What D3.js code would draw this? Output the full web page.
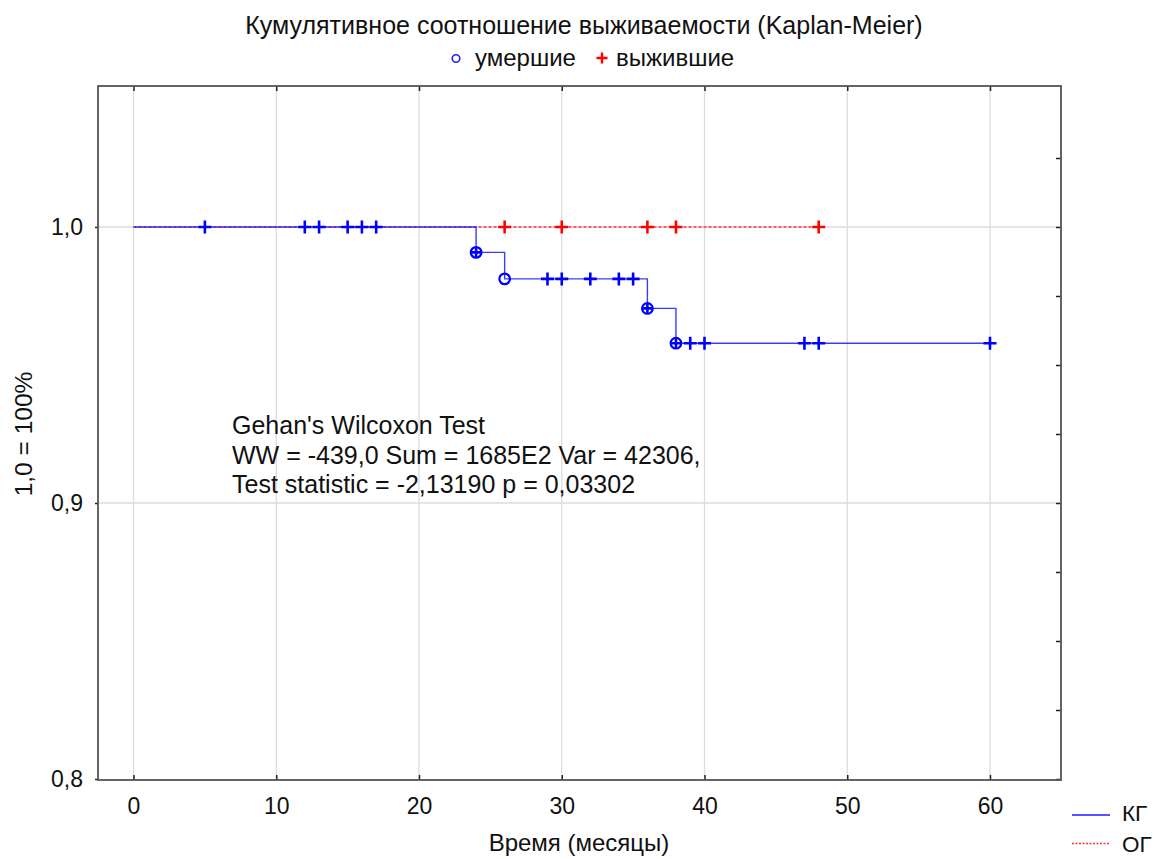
<!DOCTYPE html>
<html><head><meta charset="utf-8">
<script src="https://cdn.jsdelivr.net/npm/d3@7"></script>
<style>body{margin:0;background:#fff}svg{display:block}text{font-family:"Liberation Sans",Arial,sans-serif;fill:#111}</style>
</head><body>
<script>
// ---- data ----
const xTicks = [0,10,20,30,40,50,60];
const yTicks = [0.8,0.9,1.0];
const yMinor = [0.8,0.825,0.85,0.875,0.9,0.925,0.95,0.975,1.0,1.025];
// KG step curve (time, survival after step)
const kgSteps = [[0,1.0],[24,0.9908],[26,0.9812],[36,0.9705],[38,0.9579]];
const kgEnd = 60;
const kgDeaths = [24,26,36,38];
const kgDeathsWithCensor = [24,36,38];
const kgCensored = [5,12,13,15,16,17,29,30,32,34,35,39,40,47,48,60];
// OG curve
const ogSteps = [[0,1.0]];
const ogEnd = 48;
const ogCensored = [26,30,36,38,48];
const statLines = ["Gehan's Wilcoxon Test","WW = -439,0 Sum = 1685E2 Var = 42306,","Test statistic = -2,13190 p = 0,03302"];

const W=1154,H=859;
const L=98,R=1061,T=86,B=780;
const svg=d3.select("body").append("svg").attr("width",W).attr("height",H);
const x=d3.scaleLinear().domain([0,60]).range([133.5,990]);
const y=d3.scaleLinear().domain([0.8,1.0]).range([779,227]);
const xDom=[x.invert(L),x.invert(R)];
const yDom=[y.invert(B),y.invert(T)];
x.domain(xDom).range([L,R]);
y.domain(yDom).range([B,T]);

// grid
svg.append("g").selectAll("line").data(xTicks).join("line")
 .attr("x1",d=>x(d)).attr("x2",d=>x(d)).attr("y1",T).attr("y2",B).attr("stroke","#dcdcdc").attr("stroke-width",1.3);
svg.append("g").selectAll("line").data([0.9,1.0]).join("line")
 .attr("x1",L).attr("x2",R).attr("y1",d=>y(d)).attr("y2",d=>y(d)).attr("stroke","#dcdcdc").attr("stroke-width",1.3);

// axes
const fmt=d=>d3.format(".1f")(d).replace(".",",");
const gx=svg.append("g").attr("transform",`translate(0,${B})`).call(d3.axisBottom(x).tickValues(xTicks).tickSize(-5).tickPadding(18));
gx.selectAll("text").style("font-size","23px");
const gy=svg.append("g").attr("transform",`translate(${L},0)`).call(d3.axisLeft(y).tickValues(yTicks).tickFormat(fmt).tickSize(3).tickPadding(12));
gy.selectAll("text").style("font-size","23px");
const gt=svg.append("g").attr("transform",`translate(0,${T})`).call(d3.axisTop(x).tickValues(xTicks).tickSize(-5).tickFormat(""));
const gr=svg.append("g").attr("transform",`translate(${R},0)`).call(d3.axisRight(y).tickValues(yMinor).tickSize(-5).tickFormat(""));
[gx,gy,gt,gr].forEach(g=>{g.select(".domain").remove();g.selectAll("line").attr("stroke","#222").attr("stroke-width",1.5);});
svg.append("rect").attr("x",L).attr("y",T).attr("width",R-L).attr("height",B-T).attr("fill","none").attr("stroke","#555").attr("stroke-width",1.8);

// step lines
function stepPath(steps,end){
  const pts=steps.map(d=>[d[0],d[1]]); pts.push([end,steps[steps.length-1][1]]);
  return d3.line().x(d=>x(d[0])).y(d=>y(d[1])).curve(d3.curveStepAfter)(pts);
}
function survAt(steps,t){let v=1;steps.forEach(s=>{if(s[0]<=t)v=s[1];});return v;}
svg.append("path").attr("d",stepPath(ogSteps,ogEnd)).attr("fill","none").attr("stroke","#ff3030").attr("stroke-width",1.4).attr("stroke-dasharray","3,2");
svg.append("path").attr("d",stepPath(kgSteps,kgEnd)).attr("fill","none").attr("stroke","#1a1aff").attr("stroke-width",1.4).attr("stroke-opacity",0.85);

function plus(g,cx,cy,col,s,w){
  g.append("path").attr("d",`M${cx-s},${cy}H${cx+s}M${cx},${cy-s}V${cy+s}`).attr("stroke",col).attr("stroke-width",w||2.6).attr("fill","none");
}
const mg=svg.append("g");
ogCensored.forEach(t=>plus(mg,x(t),y(survAt(ogSteps,t)),"#ff0000",6.5));
kgCensored.forEach(t=>plus(mg,x(t),y(survAt(kgSteps,t)),"#0000ff",6.5));
kgDeaths.forEach(t=>{
  mg.append("circle").attr("cx",x(t)).attr("cy",y(survAt(kgSteps,t))).attr("r",5.3).attr("fill","none").attr("stroke","#0000ff").attr("stroke-width",2.2);
});
kgDeathsWithCensor.forEach(t=>plus(mg,x(t),y(survAt(kgSteps,t)),"#0000ff",5.3));

// title & legend
svg.append("text").attr("x",584).attr("y",34).attr("text-anchor","middle").style("font-size","25px").text("Кумулятивное соотношение выживаемости (Kaplan-Meier)");
svg.append("circle").attr("cx",456).attr("cy",58.5).attr("r",3.8).attr("fill","none").attr("stroke","#2020ff").attr("stroke-width",1.6);
svg.append("text").attr("x",475).attr("y",66).style("font-size","24px").text("умершие");
plus(svg,602,58,"#ff0000",5.5,2.4);
svg.append("text").attr("x",616).attr("y",66).style("font-size","24px").text("выжившие");

// axis titles
svg.append("text").attr("x",579).attr("y",851).attr("text-anchor","middle").style("font-size","24px").text("Время (месяцы)");
svg.append("text").attr("transform","translate(32,434) rotate(-90)").attr("text-anchor","middle").style("font-size","24.5px").text("1,0 = 100%");

// stats text
svg.append("g").selectAll("text").data(statLines).join("text")
 .attr("x",232).attr("y",(d,i)=>434+i*29.5).style("font-size","25px").text(d=>d);

// bottom-right legend
svg.append("line").attr("x1",1072).attr("x2",1110).attr("y1",815).attr("y2",815).attr("stroke","#1a1aff").attr("stroke-width",1.4);
svg.append("text").attr("x",1122).attr("y",821).style("font-size","22.5px").text("КГ");
svg.append("line").attr("x1",1072).attr("x2",1110).attr("y1",843.5).attr("y2",843.5).attr("stroke","#ff3030").attr("stroke-width",1.4).attr("stroke-dasharray","2,1.5");
svg.append("text").attr("x",1122).attr("y",852).style("font-size","22.5px").text("ОГ");
</script>
</body></html>
